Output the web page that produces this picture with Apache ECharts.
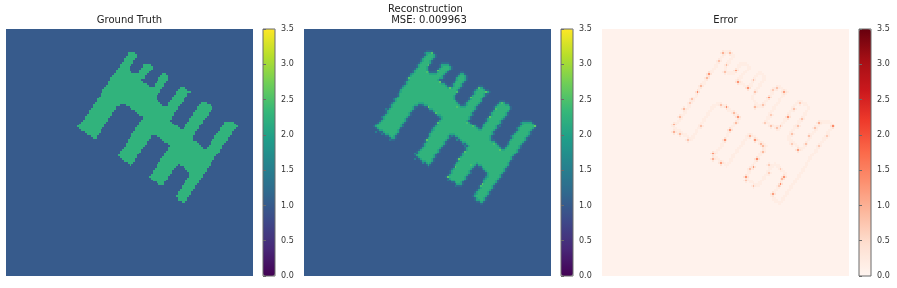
<!DOCTYPE html>
<html><head><meta charset="utf-8">
<style>html,body{margin:0;padding:0;background:#fff}#c{width:897px;height:288px}</style>
<script src="https://cdn.jsdelivr.net/npm/echarts@6/dist/echarts.min.js"></script>
</head><body><div id="c"></div>
<script>
const gridSize = 128;
const firstMaskRow = 12;
// Mask of the shape: one line per image row, [start, endExclusive, ...] columns
const maskRows = [
[63,67],[63,68],[62,68],[61,67],[61,66],[60,66],
[59,65,71,75],[59,64,71,76],[58,64,70,76],[57,64,69,75],[57,65,69,74],
[56,73,81,83],[55,72,80,84],[54,72,79,84],[54,70,79,84],[53,71,78,83],[53,73,77,82],[52,74,77,82],
[51,81,90,93],[50,80,89,94],[50,80,88,96],[49,79,88,94],[49,78,87,94],[48,78,86,93],[47,78,86,92],[47,79,85,92],
[46,80,84,91,101,104],[45,59,62,81,84,90,100,106],[45,57,64,83,83,89,99,107],[44,57,65,89,99,107],
[43,56,67,88,98,106],[43,55,68,87,97,105],[42,55,69,87,97,105],[41,54,71,86,96,104],[41,53,71,86,95,103],
[40,53,70,85,95,102],[39,52,69,86,94,102,113,118],[38,51,69,87,93,101,113,119],[37,51,68,89,93,100,112,120],
[38,50,67,90,92,100,111,119],[39,49,67,99,111,118],[41,49,66,98,110,117],[42,48,65,98,109,117],
[44,47,65,75,78,97,108,116],[45,47,64,75,80,97,108,115],[63,74,81,97,107,115],[63,73,82,99,106,114],
[62,73,84,100,106,113],[62,72,85,101,105,112],[61,71,84,102,104,112],[60,70,84,111],[59,70,83,111],
[59,69,82,110],[58,68,82,109],[59,68,81,108],[60,67,80,108],[61,67,80,107],[63,66,79,106],
[64,65,78,89,90,106],[78,88,92,105],[77,87,93,104],[76,86,94,104],[76,86,95,103],[75,85,95,102],
[74,84,95,102],[75,84,94,101],[76,83,93,100],[78,82,93,100],[79,82,92,99],[91,98],[91,98],[90,97],
[89,96],[89,96],[88,95],[89,94],[89,94],[91,93]
];
const backgroundValue = 1.0;
const shapeValue = 2.27;
const errorFloor = 0.06;
const rimError = 0.17;
// Visible error spots: [column, row, error]
const errorSpots = [
[62,12,1.0],[66,12,.9],[60,16,.8],[64,18,.9],[69,21,1.2],[63,22,.8],[55,23,1.3],[54,25,.9],[51,29,.9],
[70,27,1.3],[49,32,1.4],[75,30,1.3],[78,26,.8],[79,32,.8],[86,35,1.3],[90,30,.8],[94,32,1.2],[88,31,.7],
[46,36,.8],[45,38,.7],[42,41,.9],[40,45,.9],[37,49,1.0],[37,53,1.0],[40,54,.9],[44,57,.8],[61,39,.8],
[64,40,1.4],[68,43,.9],[70,45,1.3],[69,48,.9],[66,52,1.3],[51,50,.8],[63,57,1.3],[76,55,1.0],[79,57,1.3],
[82,59,.9],[83,60,.9],[83,63,.9],[80,67,1.4],[57,64,1.3],[57,67,1.0],[61,69,1.2],[78,71,1.2],[76,72,.8],
[74,76,1.3],[74,78,.8],[78,81,.8],[94,76,1.3],[93,77,.9],[92,80,1.4],[88,85,1.2],[119,50,1.4],[112,48,1.0],
[110,51,.8],[107,55,.8],[101,62,1.2],[105,59,.8],[98,54,.8],[96,45,1.3],[99,41,.8],[102,38,.7],[103,46,.8],
[101,50,.8],[87,44,.7],[84,48,.7],[87,50,.8],[92,50,.8],[90,51,.8],[83,39,.8],[79,40,.9],[86,70,.7],
[92,72,.7],[91,81,.7],[116,55,.7],[112,60,.7],[98,59,.7],[86,74,.7]
];
const panelTitles = ['Ground Truth', 'Reconstruction', 'MSE: 0.009963', 'Error'];
const colorbarTicks = [0, 0.5, 1, 1.5, 2, 2.5, 3, 3.5];
const viridis = ['#440154','#482878','#3e4989','#31688e','#26828e','#1f9e89','#35b779','#6ece58','#b5de2b','#fde725'];
const reds = ['#fff5f0','#fee0d2','#fcbba1','#fc9272','#fb6a4a','#ef3b2c','#cb181d','#a50f15','#67000d'];

const inside = (c, r) => {
  const line = maskRows[r - firstMaskRow];
  if (!line) return false;
  for (let i = 0; i < line.length; i += 2) if (c >= line[i] && c < line[i + 1]) return true;
  return false;
};
const neighbours = [[1,0],[-1,0],[0,1],[0,-1]];
const spotAt = new Map(errorSpots.map(s => [s[0] + ',' + s[1], s[2]]));
const truth = [], recon = [], error = [];
for (let r = 0; r < gridSize; r++) for (let c = 0; c < gridSize; c++) {
  const isIn = inside(c, r);
  const rim = neighbours.some(d => inside(c + d[0], r + d[1]) !== isIn);
  const spot = spotAt.get(c + ',' + r);
  truth.push([c, r, isIn ? shapeValue : backgroundValue]);
  let rec = isIn ? shapeValue : backgroundValue, err = errorFloor;
  if (rim) { rec += isIn ? -0.2 : 0.2; err = rimError; }
  neighbours.forEach(d => {
    const near = spotAt.get((c + d[0]) + ',' + (r + d[1]));
    if (near !== undefined) err = Math.max(err, near * 0.3);
  });
  if (spot !== undefined) { rec = isIn ? shapeValue + spot * 0.25 : backgroundValue + spot * 0.55; err = spot; }
  recon.push([c, r, rec]);
  error.push([c, r, err]);
}

const panelLeft = [6, 304, 602], barLeft = [263, 561, 859];
const panelTop = 29, size = 247, barW = 12;
const cats = Array.from({length: gridSize}, (_, i) => i);
const renderCell = (params, api) => {
  const p = api.coord([api.value(0), api.value(1)]);
  const s = api.size([1, 1]);
  const x0 = Math.round(p[0] - s[0] / 2), y0 = Math.round(p[1] - s[1] / 2);
  const x1 = Math.round(p[0] + s[0] / 2), y1 = Math.round(p[1] + s[1] / 2);
  return {type: 'rect', shape: {x: x0, y: y0, width: x1 - x0, height: y1 - y0},
    style: {fill: api.visual('color')}, silent: true};
};
const grids = [], xAxes = [], yAxes = [], series = [], vms = [];
[truth, recon, error].forEach((d, i) => {
  grids.push({left: panelLeft[i], top: panelTop, width: size, height: size, show: false});
  xAxes.push({type: 'category', gridIndex: i, data: cats, show: false});
  yAxes.push({type: 'category', gridIndex: i, data: cats, inverse: true, show: false});
  series.push({type: 'custom', xAxisIndex: i, yAxisIndex: i, data: d, progressive: 0, silent: true,
    encode: {x: 0, y: 1}, renderItem: renderCell, animation: false, clip: true});
  vms.push({type: 'continuous', seriesIndex: i, dimension: 2, min: 0, max: 3.5, calculable: false, hoverLink: false,
    left: barLeft[i], top: panelTop, itemWidth: barW, itemHeight: size, padding: 0, text: null, orient: 'vertical',
    inRange: {color: i === 2 ? reds : viridis}});
});
barLeft.forEach((l, i) => {
  const g = grids.length;
  grids.push({left: l, top: panelTop, width: barW, height: size, show: true, z: 10, borderColor: '#6a6a6a', borderWidth: 1, backgroundColor: 'transparent'});
  xAxes.push({type: 'value', gridIndex: g, show: false, min: 0, max: 1});
  yAxes.push({type: 'value', gridIndex: g, position: 'right', min: colorbarTicks[0], max: colorbarTicks[colorbarTicks.length - 1],
    interval: 0.5, z: 10,
    axisLine: {show: false}, splitLine: {show: false},
    axisTick: {show: true, length: 3, lineStyle: {color: '#6a6a6a', width: 1}},
    axisLabel: {show: true, margin: 6, fontFamily: 'DejaVu Sans', fontSize: 8, color: '#333',
      formatter: v => v.toFixed(1), showMinLabel: true, showMaxLabel: true}});
});
const t = (text, x, y) => ({text, left: x, top: y, textAlign: 'center', padding: 0,
  textStyle: {fontFamily: 'DejaVu Sans', fontSize: 10, fontWeight: 'normal', color: '#222'}});
const chart = echarts.init(document.getElementById('c'), null, {renderer: 'canvas'});
chart.setOption({
  animation: false, backgroundColor: '#fff',
  title: [t(panelTitles[0], 129.5, 15), t(panelTitles[1], 425.5, 4), t(panelTitles[2], 429, 15), t(panelTitles[3], 725.5, 15)],
  grid: grids, xAxis: xAxes, yAxis: yAxes, visualMap: vms, series
});
</script></body></html>
